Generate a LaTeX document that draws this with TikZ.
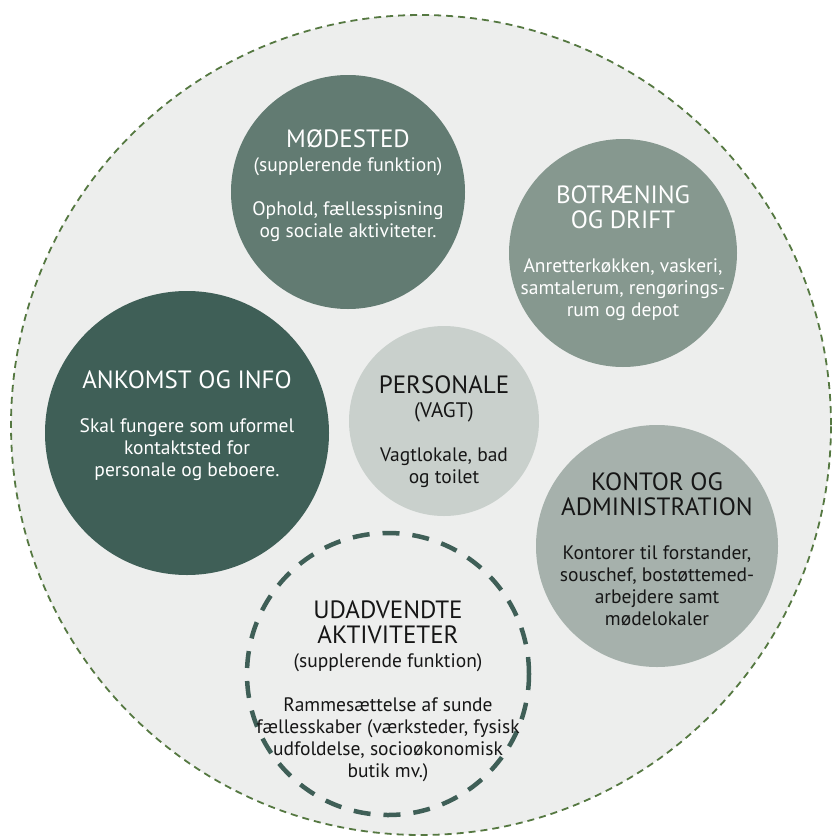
\documentclass[tikz,border=0pt]{standalone}
\usepackage{fontspec}
\setmainfont{PT Sans}
\definecolor{paper}{HTML}{EDEEED}
\definecolor{rim}{HTML}{557841}
\definecolor{ankomst}{HTML}{3F5F57}
\definecolor{moedested}{HTML}{627B72}
\definecolor{botraening}{HTML}{86988F}
\definecolor{personale}{HTML}{C9D0CC}
\definecolor{kontor}{HTML}{A6B1AC}
\definecolor{ink}{HTML}{161616}
\newcommand{\ttl}[1]{{\fontsize{25}{22}\selectfont #1}}
\tikzset{
  site/.style={circle, fill=paper, draw=rim, line width=1.8pt, dash pattern=on 7pt off 5pt, inner sep=0pt},
  room/.style={circle, fill=#1, inner sep=0pt},
  optional/.style={circle, draw=ankomst, line width=4.5pt, dash pattern=on 17pt off 13pt, inner sep=0pt},
  roomText/.style={align=center, font=\fontsize{19.5}{22}\selectfont, text=#1, inner sep=0pt},
}

\begin{document}
\begin{tikzpicture}[x=1pt, y=-1pt]
  \useasboundingbox (0,0) rectangle (832,838);

  % ---------------------------------------------------------------- site
  \node[site, minimum size=820pt] (site) at (421,425) {};

  % ---------------------------------------------------------------- rooms
  \node[room=moedested, minimum size=234pt] (moedested) at (348,192) {};
  \node[room=botraening, minimum size=228pt] (botraening) at (623,253) {};
  \node[room=ankomst, minimum size=284pt] (ankomst) at (187,433) {};
  \node[room=personale, minimum size=190pt] (personale) at (444,421) {};
  \node[room=kontor, minimum size=242pt] (kontor) at (657,546) {};
  \node[optional, minimum size=282pt] (udadvendte) at (388,674) {};

  % ---------------------------------------------------------------- texts
  \node[roomText=white, yshift=6pt] (moedestedText) at (moedested.center)
    {\ttl{MØDESTED}\\[2pt] (supplerende funktion)\\[22pt]
     Ophold, fællesspisning\\ og sociale aktiviteter.};
  \node[roomText=white] (botraeningText) at (botraening.center)
    {\ttl{BOTRÆNING}\\[3pt] \ttl{OG DRIFT}\\[22pt]
     Anretterkøkken, vaskeri,\\ samtalerum, rengørings-\\ rum og depot};
  \node[roomText=white, yshift=7pt] (ankomstText) at (ankomst.center)
    {\ttl{ANKOMST OG INFO}\\[22pt]
     Skal fungere som uformel\\ kontaktsted for\\ personale og beboere.};
  \node[roomText=ink, yshift=-11pt] (personaleText) at (personale.center)
    {\ttl{PERSONALE}\\[2pt] {\fontsize{21}{22}\selectfont (VAGT)}\\[22pt]
     Vagtlokale, bad\\ og toilet};
  \node[roomText=ink, yshift=-3pt] (kontorText) at (kontor.center)
    {\ttl{KONTOR OG}\\[3pt] \ttl{ADMINISTRATION}\\[22pt]
     Kontorer til forstander,\\ souschef, bostøttemed-\\ arbejdere samt\\ mødelokaler};
  \node[roomText=ink, yshift=-17pt] (udadvendteText) at (udadvendte.center)
    {\ttl{UDADVENDTE}\\[3pt] \ttl{AKTIVITETER}\\[2pt] (supplerende funktion)\\[22pt]
     Rammesættelse af sunde\\ fællesskaber (værksteder, fysisk\\ udfoldelse, socioøkonomisk\\ butik mv.)};

\end{tikzpicture}
\end{document}
